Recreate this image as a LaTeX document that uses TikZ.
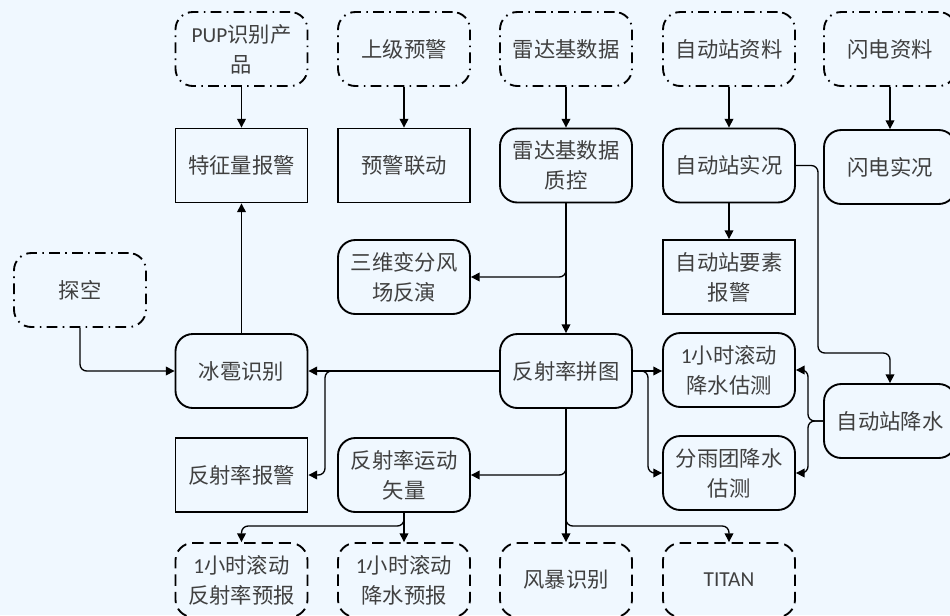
\documentclass[tikz,border=0pt]{standalone}
\usepackage{fontspec}
\setmainfont{Carlito}
\newfontfamily\cjk{Noto Sans CJK SC}
\newfontfamily\latn{Carlito}
\usetikzlibrary{arrows.meta}
\definecolor{bg}{HTML}{F0F8FF}
\tikzset{
  base/.style={minimum width=99pt, minimum height=55.5pt, inner sep=2pt, align=center,
    line width=1.4pt, text=black!75, font=\cjk\fontsize{16}{22.5}\selectfont},
  srcbox/.style={base, draw, rounded corners=13pt, dash pattern=on 8pt off 4pt on 1.2pt off 4pt},
  outbox/.style={base, draw, rounded corners=13pt, dash pattern=on 8.5pt off 4.5pt},
  procbox/.style={base, draw, rounded corners=13pt},
  rectbox/.style={base, draw},
  arr/.style={line width=1pt, rounded corners=5pt, -{Triangle[length=6.5pt,width=6.5pt]}},
  ln/.style={line width=1pt, rounded corners=5pt}
}
\begin{document}
\begin{tikzpicture}[x=0.75pt,y=-0.75pt]
\useasboundingbox (0,0) rectangle (950,615);
\fill[bg] (0,0) rectangle (950,615);
\clip (0,0) rectangle (950,615);
% row 1
\node[srcbox] (pup) at (241.5,49) {{\latn PUP}识别产\\品};
\node[srcbox] (sjyj) at (404,49) {上级预警};
\node[srcbox] (ldj) at (566,49) {雷达基数据};
\node[srcbox] (zdzzl) at (729,49) {自动站资料};
\node[srcbox] (sdzl) at (890,49) {闪电资料};
% row 2
\node[rectbox] (tzl) at (241.5,165.5) {特征量报警};
\node[rectbox] (yjld) at (404,165.5) {预警联动};
\node[procbox] (zk) at (566,165.5) {雷达基数据\\质控};
\node[procbox] (zdzsk) at (729,165.5) {自动站实况};
\node[procbox] (sdsk) at (890,167) {闪电实况};
% row 3
\node[srcbox] (tk) at (80,290) {探空};
\node[procbox] (sw) at (404,277) {三维变分风\\场反演};
\node[rectbox] (yswbj) at (729,277) {自动站要素\\报警};
% row 4
\node[procbox] (bb) at (241.5,371) {冰雹识别};
\node[procbox] (pt) at (566,371) {反射率拼图};
\node[procbox] (js1) at (729,370) {{\latn 1}小时滚动\\降水估测};
\node[procbox] (zdzjs) at (890,421) {自动站降水};
% row 5
\node[rectbox] (fsbj) at (241.5,475) {反射率报警};
\node[procbox] (ydsl) at (404,475) {反射率运动\\矢量};
\node[procbox] (fyt) at (729,473) {分雨团降水\\估测};
% row 6
\node[outbox] (b1) at (241.5,580) {{\latn 1}小时滚动\\反射率预报};
\node[outbox] (b2) at (404,580) {{\latn 1}小时滚动\\降水预报};
\node[outbox] (fb) at (566,580) {风暴识别};
\node[outbox] (titan) at (729,580) {{\latn TITAN}};
% connectors
\draw[arr] (pup) -- (tzl);
\draw[arr] (sjyj) -- (yjld);
\draw[arr] (ldj) -- (zk);
\draw[arr] (zdzzl) -- (zdzsk);
\draw[arr] (sdzl.south) -- (sdzl.south |- sdsk.north);
\draw[arr] (bb) -- (tzl);
\draw[arr] (zk) -- (pt);
\draw[arr] (zk.south) |- (sw.east);
\draw[arr] (zdzsk) -- (yswbj);
\draw[arr] (zdzsk.east) -- (818,165.5) -- (818,353) -- (890,353) -- (zdzjs.north);
\draw[arr] (tk.south) |- (bb.west);
\draw[arr] (pt.west) -- (bb.east);
\draw[arr] (pt.west) -- (325,371) -- (325,475) -- (fsbj.east);
\draw[arr] (pt.east) -- (js1.west |- pt.east);
\draw[arr] (pt.east) -- (648,371) -- (648,473) -- (fyt.west);
\draw[arr] (zdzjs.west) -- (808,421) -- (808,370) -- (js1.east);
\draw[arr] (zdzjs.west) -- (808,421) -- (808,473) -- (fyt.east);
\draw[arr] (pt) -- (fb);
\draw[arr] (pt.south) -- (566,475) -- (ydsl.east);
\draw[arr] (pt.south) -- (566,526) -- (729,526) -- (titan.north);
\draw[arr] (ydsl) -- (b2);
\draw[arr] (ydsl.south) -- (404,526) -- (241.5,526) -- (b1.north);
\end{tikzpicture}
\end{document}
